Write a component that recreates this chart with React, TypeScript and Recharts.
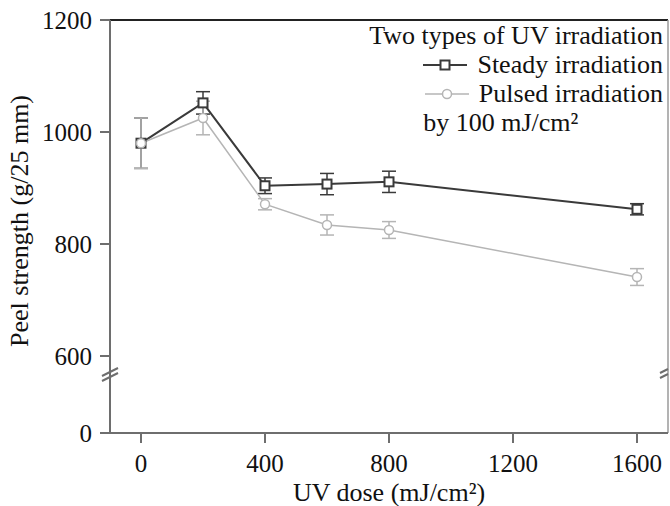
import { LineChart, Line, XAxis, YAxis, ErrorBar, ReferenceLine } from "recharts";

const doses = [0, 200, 400, 600, 800, 1600];
const steady = [980, 1052, 904, 907, 911, 862];
const steadyErr = [45, 20, 14, 19, 19, 10];
const pulsed = [980, 1025, 871, 834, 825, 741];
const pulsedErr = [45, 30, 10, 18, 15, 15];

const xTicks = [0, 400, 800, 1200, 1600];
const yTickLabels = [0, 600, 800, 1000, 1200];

// y axis is broken between 0 and 600: squash the lower part
const BREAK_AT = 600;
const LOWER_SPAN = 137.5;
const squash = (v: number) => (v >= BREAK_AT ? v : BREAK_AT - ((BREAK_AT - v) * LOWER_SPAN) / BREAK_AT);

const data = doses.map((dose, i) => ({
    dose,
    steady: squash(steady[i]),
    steadyErr: steadyErr[i],
    pulsed: squash(pulsed[i]),
    pulsedErr: pulsedErr[i],
}));

const yTicks = yTickLabels.map(squash);

const FONT = "'Liberation Serif', 'Times New Roman', serif";
const DARK = "#3a3a3a";
const LIGHT = "#b5b5b5";
const AXIS = "#6e6e6e";

const SquareDot = (props: any) => {
    const { cx, cy, stroke } = props;
    if (cx == null || cy == null) return null;
    return <rect x={cx - 4.5} y={cy - 4.5} width={9} height={9} fill="#fff" stroke={stroke} strokeWidth={2} />;
};

function LegendBox() {
    const row = { display: "flex", alignItems: "center", justifyContent: "flex-end" } as const;
    return (
        <div
            style={{
                position: "absolute",
                top: 21,
                right: 7,
                fontFamily: FONT,
                fontSize: 26,
                lineHeight: "29px",
                color: "#111",
                textAlign: "right",
                pointerEvents: "none",
            }}
        >
            <div>Two types of UV irradiation</div>
            <div style={row}>
                <svg width={44} height={14} style={{ marginRight: 10 }}>
                    <line x1={0} y1={7} x2={44} y2={7} stroke={DARK} strokeWidth={2} />
                    <rect x={17.5} y={2.5} width={9} height={9} fill="#fff" stroke={DARK} strokeWidth={2} />
                </svg>
                <span>Steady irradiation</span>
            </div>
            <div style={row}>
                <svg width={44} height={14} style={{ marginRight: 10 }}>
                    <line x1={0} y1={7} x2={44} y2={7} stroke={LIGHT} strokeWidth={1.5} />
                    <circle cx={22} cy={7} r={4.5} fill="#fff" stroke={LIGHT} strokeWidth={1.5} />
                </svg>
                <span>Pulsed irradiation</span>
            </div>
            <div style={{ textAlign: "left", paddingLeft: 54 }}>by 100 mJ/cm²</div>
        </div>
    );
}

export default function App() {
    const tick = { fontSize: 25, fill: "#111", fontFamily: FONT };

    return (
        <div style={{ position: "absolute", left: 0, top: 0, width: 670, height: 506, background: "#fff" }}>
            <LineChart width={670} height={506} data={data} margin={{ top: 20, right: 2, left: 10, bottom: 0 }}>
                <XAxis
                    type="number"
                    dataKey="dose"
                    domain={[-100, 1700]}
                    ticks={xTicks}
                    tick={tick}
                    tickSize={10}
                    tickMargin={11}
                    height={73}
                    stroke={AXIS}
                    strokeWidth={2}
                    label={{ value: "UV dose (mJ/cm²)", position: "insideBottom", offset: 5, style: { fontSize: 26, fill: "#111", fontFamily: FONT } }}
                />
                <YAxis
                    type="number"
                    domain={[squash(0), 1200]}
                    ticks={yTicks}
                    tickFormatter={(v: number) => String(yTickLabels[yTicks.indexOf(v)] ?? "")}
                    tick={tick}
                    tickSize={10}
                    tickMargin={8}
                    width={100}
                    stroke={AXIS}
                    strokeWidth={2}
                    label={{
                        content: () => (
                            <text x={28} y={221} transform="rotate(-90 28 221)" textAnchor="middle" fontSize={26} fill="#111" fontFamily={FONT}>
                                Peel strength (g/25 mm)
                            </text>
                        ),
                    }}
                />
                <ReferenceLine y={1200} stroke="#222" strokeWidth={2} />
                <ReferenceLine x={1700} stroke="#9a9a9a" strokeWidth={1.5} />
                <Line dataKey="steady" stroke={DARK} strokeWidth={2} dot={<SquareDot />} isAnimationActive={false}>
                    <ErrorBar dataKey="steadyErr" direction="y" width={7} stroke={DARK} strokeWidth={1.5} />
                </Line>
                <Line
                    dataKey="pulsed"
                    stroke={LIGHT}
                    strokeWidth={1.5}
                    dot={{ r: 4.5, fill: "#fff", stroke: LIGHT, strokeWidth: 1.5 }}
                    isAnimationActive={false}
                >
                    <ErrorBar dataKey="pulsedErr" direction="y" width={7} stroke={LIGHT} strokeWidth={1.5} />
                </Line>
            </LineChart>
            <LegendBox />
            <svg width={670} height={506} style={{ position: "absolute", left: 0, top: 0, pointerEvents: "none" }}>
                <g stroke={AXIS} strokeWidth={2}>
                    <line x1={102} y1={376} x2={118} y2={368} />
                    <line x1={102} y1={381} x2={118} y2={373} />
                    <line x1={660} y1={373} x2={668} y2={369} />
                    <line x1={660} y1={378} x2={668} y2={374} />
                </g>
            </svg>
        </div>
    );
}
